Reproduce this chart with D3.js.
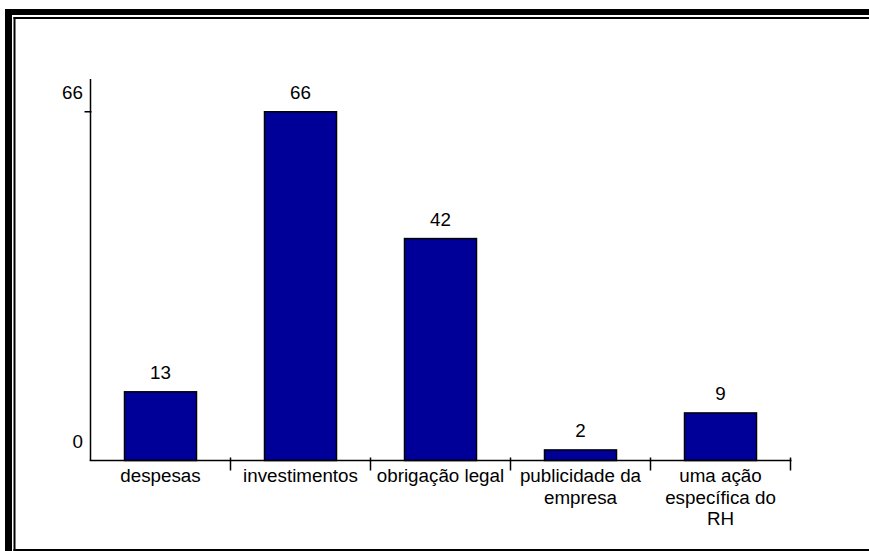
<!DOCTYPE html>
<html>
<head>
<meta charset="utf-8">
<script src="https://cdn.jsdelivr.net/npm/d3@7"></script>
<style>
  html, body { margin: 0; padding: 0; background: #fff; }
  svg { display: block; font-family: "Liberation Sans", Arial, sans-serif; }
</style>
</head>
<body>
<svg id="chart" width="869" height="551"></svg>
<script>
// Categories and counts
const categories = ["despesas", "investimentos", "obrigação legal", "publicidade da empresa", "uma ação específica do RH"];
const values = [13, 66, 42, 2, 9];
const yTickValues = [0, 66];
const yMax = 72.2;

const W = 869, H = 551;
const svg = d3.select("#chart");

// Frame: heavy outer rule on top/left, thin inner rule, thin bottom rule
svg.append("rect").attr("x", 5).attr("y", 9).attr("width", W - 5).attr("height", 6).attr("fill", "#000");
svg.append("rect").attr("x", 5).attr("y", 9).attr("width", 7).attr("height", H - 9).attr("fill", "#000");
svg.append("rect").attr("x", 13.5).attr("y", 17).attr("width", W - 13.5).attr("height", 2).attr("fill", "#000");
svg.append("rect").attr("x", 13.5).attr("y", 17).attr("width", 2).attr("height", H - 17).attr("fill", "#000");
svg.append("rect").attr("x", 13.5).attr("y", 549).attr("width", W - 13.5).attr("height", 2).attr("fill", "#000");

const x0 = 90.5, x1 = 790.5, y0 = 460.5, yTop = 79;
const x = d3.scaleBand().domain(categories).range([x0, x1]).paddingInner(0).paddingOuter(0);
const y = d3.scaleLinear().domain([0, yMax]).range([y0, yTop]);
const barW = 72;
const fontSize = 18.8;

// Bars
svg.append("g").selectAll("rect").data(categories).join("rect")
  .attr("x", d => x(d) + x.bandwidth() / 2 - barW / 2)
  .attr("y", (d, i) => y(values[i]))
  .attr("width", barW)
  .attr("height", (d, i) => y(0) - y(values[i]))
  .attr("fill", "#000099")
  .attr("stroke", "#000")
  .attr("stroke-width", 1.5);

// Value labels
svg.append("g").selectAll("text").data(categories).join("text")
  .attr("x", d => x(d) + x.bandwidth() / 2)
  .attr("y", (d, i) => y(values[i]) - 13)
  .attr("text-anchor", "middle")
  .attr("font-size", fontSize)
  .text((d, i) => values[i]);

// Y axis
const yAxis = svg.append("g");
yAxis.append("line").attr("x1", x0).attr("x2", x0).attr("y1", yTop).attr("y2", y0 + 0.5)
  .attr("stroke", "#000").attr("stroke-width", 1.5);
yAxis.selectAll("line.tick").data(yTickValues.filter(v => v > 0)).join("line")
  .attr("class", "tick")
  .attr("x1", x0 - 6).attr("x2", x0 + 1)
  .attr("y1", d => y(d)).attr("y2", d => y(d))
  .attr("stroke", "#000").attr("stroke-width", 1.5);
yAxis.selectAll("text").data(yTickValues).join("text")
  .attr("x", x0 - 7.5)
  .attr("y", d => y(d) - 13)
  .attr("text-anchor", "end")
  .attr("font-size", fontSize)
  .text(d => d);

// X axis
const xAxis = svg.append("g");
xAxis.append("line").attr("x1", x0 - 0.75).attr("x2", x1 + 1).attr("y1", y0).attr("y2", y0)
  .attr("stroke", "#000").attr("stroke-width", 1.5);
xAxis.selectAll("line.tick").data(categories).join("line")
  .attr("class", "tick")
  .attr("x1", d => x(d) + x.bandwidth()).attr("x2", d => x(d) + x.bandwidth())
  .attr("y1", y0 - 3).attr("y2", y0 + 10)
  .attr("stroke", "#000").attr("stroke-width", 1.5);

// Category labels, wrapped to band width
const lineH = 21.5;
const wrapW = 132;
xAxis.selectAll("text").data(categories).join("text")
  .attr("x", d => x(d) + x.bandwidth() / 2)
  .attr("y", y0 + 21.5)
  .attr("text-anchor", "middle")
  .attr("font-size", fontSize)
  .each(function(d) {
    const t = d3.select(this);
    const cx = +t.attr("x");
    const words = d.split(" ");
    let line = [];
    let tspan = t.append("tspan").attr("x", cx).attr("dy", 0);
    for (const w of words) {
      line.push(w);
      tspan.text(line.join(" "));
      if (tspan.node().getComputedTextLength() > wrapW && line.length > 1) {
        line.pop();
        tspan.text(line.join(" "));
        line = [w];
        tspan = t.append("tspan").attr("x", cx).attr("dy", lineH).text(w);
      }
    }
  });
</script>
</body>
</html>
